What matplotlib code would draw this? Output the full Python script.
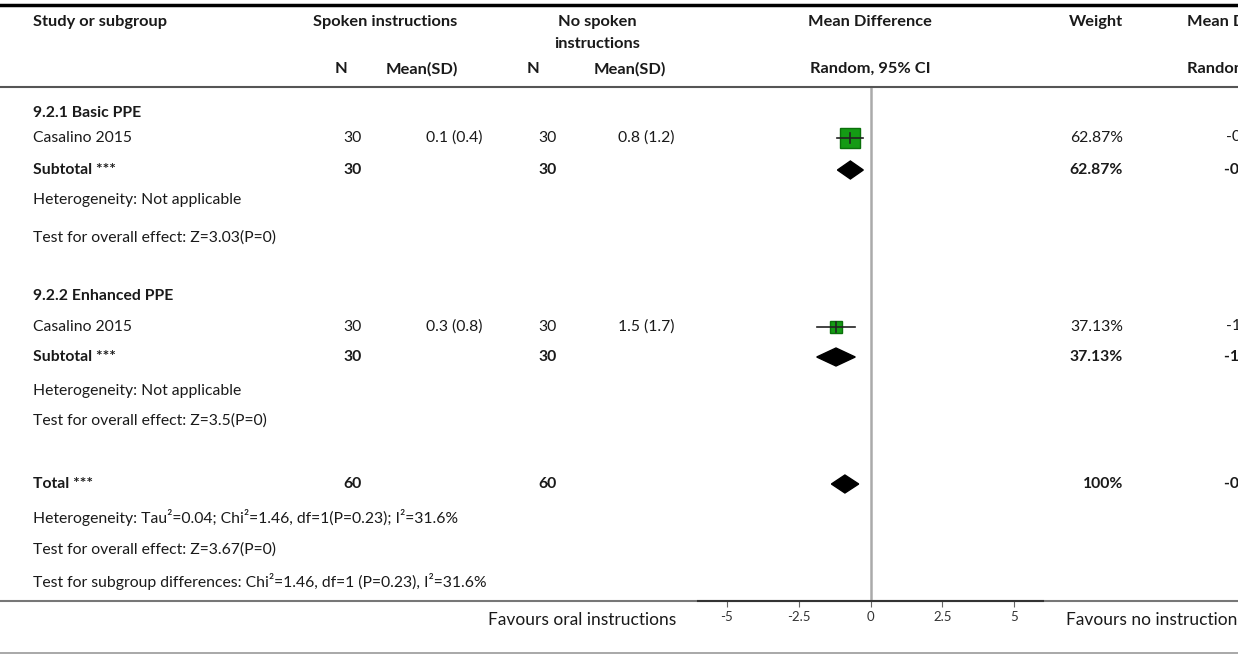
import matplotlib.pyplot as plt
from matplotlib.patches import Polygon

plt.rcParams['font.family'] = ['Lato', 'DejaVu Sans']

# data
groups = ['9.2.1 Basic PPE', '9.2.2 Enhanced PPE']
studies = ['Casalino 2015', 'Casalino 2015']
n_spoken = [30, 30]
mean_spoken = ['0.1 (0.4)', '0.3 (0.8)']
n_none = [30, 30]
mean_none = ['0.8 (1.2)', '1.5 (1.7)']
md = [-0.7, -1.2]
ci_low = [-1.15, -1.87]
ci_high = [-0.25, -0.53]
weights = [62.87, 37.13]
het_sub = ['Heterogeneity: Not applicable', 'Heterogeneity: Not applicable']
test_sub = ['Test for overall effect: Z=3.03(P=0)', 'Test for overall effect: Z=3.5(P=0)']
total_n = [60, 60]
total_md = -0.89
total_low = -1.36
total_high = -0.41
total_het = 'Heterogeneity: Tau\u00b2=0.04; Chi\u00b2=1.46, df=1(P=0.23); I\u00b2=31.6%'
total_test = 'Test for overall effect: Z=3.67(P=0)'
subgroup_test = 'Test for subgroup differences: Chi\u00b2=1.46, df=1 (P=0.23), I\u00b2=31.6%'
ticks = [-5, -2.5, 0, 2.5, 5]
tick_labels = ['-5', '-2.5', '0', '2.5', '5']

W, H = 1238, 655
fig = plt.figure(figsize=(W / 100, H / 100), dpi=100)
ax = fig.add_axes([0, 0, 1, 1])
ax.set_xlim(0, W)
ax.set_ylim(H, 0)
ax.axis('off')

fs = 11.3
col_study = 33
col_n1 = 362
col_m1 = 482
col_n2 = 557
col_m2 = 675
col_w = 1123
col_md = 1226


def txt(x, y, s, ha='left', bold=False, size=None):
    ax.text(x, y, s, ha=ha, va='center', fontsize=size or fs,
            fontweight='bold' if bold else 'normal', color='#1a1a1a')


# header
ax.plot([0, W], [5, 5], color='black', lw=2.5)
hs = 11.8
txt(col_study, 22, 'Study or subgroup', bold=True, size=hs)
txt(385, 22, 'Spoken instructions', ha='center', bold=True, size=hs)
txt(597, 22, 'No spoken', ha='center', bold=True, size=hs)
txt(597, 44, 'instructions', ha='center', bold=True, size=hs)
txt(870, 22, 'Mean Difference', ha='center', bold=True, size=hs)
txt(col_w, 22, 'Weight', ha='right', bold=True, size=hs)
txt(1187, 22, 'Mean Difference', bold=True, size=hs)
txt(341, 69, 'N', ha='center', bold=True, size=hs)
txt(422, 69, 'Mean(SD)', ha='center', bold=True, size=hs)
txt(533, 69, 'N', ha='center', bold=True, size=hs)
txt(630, 69, 'Mean(SD)', ha='center', bold=True, size=hs)
txt(870, 69, 'Random, 95% CI', ha='center', bold=True, size=hs)
txt(1187, 69, 'Random, 95% CI', bold=True, size=hs)
ax.plot([0, W], [87, 87], color='#555555', lw=1.5)

# rows (pixel y of each block)
group_y = [113, 296]
study_y = [138, 327]
sub_y = [170, 357]
het_y = [200, 391]
test_y = [238, 421]
total_y = 484

for i in range(2):
    txt(col_study, group_y[i], groups[i], bold=True)
    txt(col_study, study_y[i], studies[i])
    txt(col_n1, study_y[i], str(n_spoken[i]), ha='right')
    txt(col_m1, study_y[i], mean_spoken[i], ha='right')
    txt(col_n2, study_y[i], str(n_none[i]), ha='right')
    txt(col_m2, study_y[i], mean_none[i], ha='right')
    txt(col_w, study_y[i], f'{weights[i]:.2f}%', ha='right')
    txt(col_md, study_y[i], f'{md[i]}[{ci_low[i]}, {ci_high[i]}]')
    txt(col_study, sub_y[i], 'Subtotal ***', bold=True)
    txt(col_n1, sub_y[i], str(n_spoken[i]), ha='right', bold=True)
    txt(col_n2, sub_y[i], str(n_none[i]), ha='right', bold=True)
    txt(col_w, sub_y[i], f'{weights[i]:.2f}%', ha='right', bold=True)
    txt(col_md - 2, sub_y[i], f'{md[i]}[{ci_low[i]}, {ci_high[i]}]', bold=True)
    txt(col_study, het_y[i], het_sub[i])
    txt(col_study, test_y[i], test_sub[i])

txt(col_study, total_y, 'Total ***', bold=True)
txt(col_n1, total_y, str(total_n[0]), ha='right', bold=True)
txt(col_n2, total_y, str(total_n[1]), ha='right', bold=True)
txt(col_w, total_y, '100%', ha='right', bold=True)
txt(col_md - 2, total_y, f'{total_md}[{total_low}, {total_high}]', bold=True)
txt(col_study, 518, total_het)
txt(col_study, 550, total_test)
txt(col_study, 581, subgroup_test)

ax.plot([0, W], [601, 601], color='#777777', lw=1.5)
ax.plot([0, W], [653, 653], color='#999999', lw=1.2)
txt(676, 620, 'Favours oral instructions', ha='right', size=12.5)
txt(1066, 620, 'Favours no instructions', size=12.5)

# forest plot axes: x in mean-difference units, y in pixel rows
x0, x1 = 698, 1043
fx = fig.add_axes([x0 / W, 1 - 601 / H, (x1 - x0) / W, (601 - 88) / H])
fx.set_xlim(-6, 6)
fx.set_ylim(601, 88)
fx.patch.set_alpha(0)
for s in ['top', 'left', 'right']:
    fx.spines[s].set_visible(False)
fx.spines['bottom'].set_color('#333333')
fx.spines['bottom'].set_linewidth(1.5)
fx.set_yticks([])
fx.set_xticks(ticks)
fx.set_xticklabels(tick_labels, fontsize=9.5, color='#333333')
fx.tick_params(axis='x', length=4, width=0.8, color='#666666', pad=3)
fx.axvline(0, color='#aaaaaa', lw=1.8)

for i in range(2):
    y = study_y[i]
    fx.plot(md[i], y, marker='s', ms=weights[i] * 0.24, color='#149b14',
            mec='#0a700a', zorder=3)
    fx.plot([ci_low[i], ci_high[i]], [y, y], color='#222222', lw=1.2, zorder=4)
    fx.plot([md[i], md[i]], [y - 5, y + 5], color='#222222', lw=1.2, zorder=4)
    ys = sub_y[i]
    fx.add_patch(Polygon([[ci_low[i], ys], [md[i], ys - 9], [ci_high[i], ys], [md[i], ys + 9]],
                         closed=True, color='black', zorder=3))

fx.add_patch(Polygon([[total_low, total_y], [total_md, total_y - 9], [total_high, total_y],
                      [total_md, total_y + 9]], closed=True, color='black', zorder=3))

fig.savefig('out.png', dpi=100)
